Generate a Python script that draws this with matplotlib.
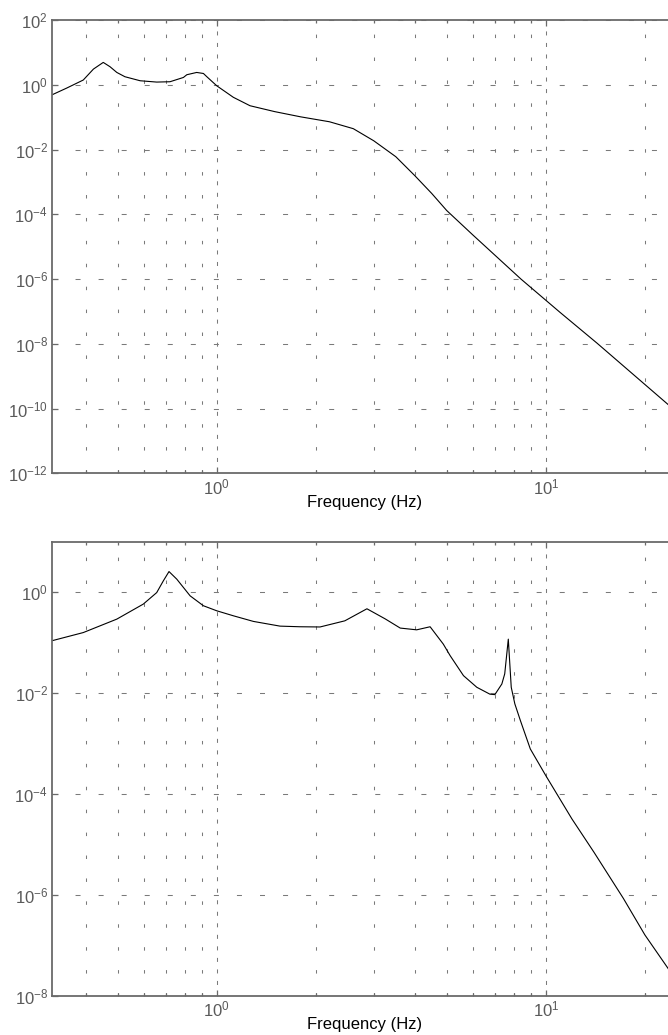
import numpy as np
import matplotlib
matplotlib.use('Agg')
import matplotlib.pyplot as plt
from matplotlib.ticker import LogFormatterMathtext, NullFormatter, NullLocator

# === Data ===
top_freq = [0.316, 0.35, 0.393, 0.422, 0.452, 0.474, 0.497, 0.526, 0.585, 0.657,
            0.721, 0.792, 0.811, 0.869, 0.911, 0.933, 1.0, 1.123, 1.262, 1.5,
            1.8, 2.2, 2.6, 3.0, 3.5, 4.0, 4.5, 5.0, 6.0, 8.4, 11.05, 14.3, 25.0]
top_mag = [0.49, 0.79, 1.40, 3.05, 4.9, 3.6, 2.4, 1.77, 1.33, 1.21,
           1.24, 1.68, 2.04, 2.4, 2.23, 1.77, 0.93, 0.41, 0.225, 0.148,
           0.102, 0.072, 0.044, 0.0186, 6.0e-3, 1.55e-3, 4.4e-4, 1.3e-4, 2.3e-5, 1.0e-6, 9.3e-8, 1.05e-8, 7.8e-11]

bot_freq = [0.316, 0.393, 0.497, 0.598, 0.657, 0.688, 0.716, 0.756, 0.83, 0.911,
            1.0, 1.123, 1.292, 1.557, 1.79, 2.06, 2.45, 2.86, 3.25, 3.61,
            4.05, 4.45, 4.88, 5.12, 5.62, 6.17, 6.76, 7.0, 7.35, 7.5,
            7.69, 7.85, 8.05, 8.37, 8.97, 10.0, 12.0, 14.0, 17.2, 20.0, 23.5, 25.0]
bot_mag = [0.109, 0.158, 0.292, 0.579, 0.98, 1.67, 2.56, 1.81, 0.845, 0.537,
           0.427, 0.34, 0.263, 0.212, 0.206, 0.204, 0.27, 0.468, 0.295, 0.194,
           0.179, 0.206, 0.0933, 0.055, 0.0221, 0.013, 9.5e-3, 9.3e-3, 0.0151, 0.024,
           0.117, 0.013, 6.1e-3, 2.84e-3, 7.8e-4, 2.3e-4, 3.2e-5, 7.0e-6, 8.5e-7, 1.6e-7, 3.5e-8, 1.9e-8]

top_yticks = [1e-12, 1e-10, 1e-8, 1e-6, 1e-4, 1e-2, 1e0, 1e2]
bot_yticks = [1e-8, 1e-6, 1e-4, 1e-2, 1e0]
x_major = [1, 10]
x_minor = [0.4, 0.5, 0.6, 0.7, 0.8, 0.9, 2, 3, 4, 5, 6, 7, 8, 9, 20]

# === Style ===
plt.rcParams['font.family'] = ['Liberation Sans', 'DejaVu Sans']
plt.rcParams['mathtext.fontset'] = 'custom'
plt.rcParams['mathtext.rm'] = 'Liberation Sans'
plt.rcParams['lines.scale_dashes'] = False
axis_gray = '#6a6a6a'
grid_gray = '#7a7a7a'

fig = plt.figure(figsize=(6.68, 10.35), dpi=100)
W, H = 668.0, 1035.0
left_px, right_px = 52.2, 676.8


def setup(ax, ylim, yticks):
    ax.set_xscale('log')
    ax.set_yscale('log')
    ax.set_xlim(10 ** -0.5, 25)
    ax.set_ylim(*ylim)
    ax.set_xticks(x_major)
    ax.set_xticks(x_minor, minor=True)
    ax.xaxis.set_major_formatter(LogFormatterMathtext())
    ax.xaxis.set_minor_formatter(NullFormatter())
    ax.set_yticks(yticks)
    ax.yaxis.set_minor_locator(NullLocator())
    ax.yaxis.set_major_formatter(LogFormatterMathtext())
    for s in ax.spines.values():
        s.set_color(axis_gray)
        s.set_linewidth(1.3)
    ax.tick_params(which='both', direction='in', top=True, right=True,
                   color=axis_gray, labelcolor='#5a5a5a', labelsize=12)
    ax.tick_params(which='major', length=4.3, width=0.9, pad=3)
    ax.tick_params(which='minor', length=2.2, width=0.9)
    ax.xaxis.grid(True, which='major', color=grid_gray, lw=0.75, dashes=(2.9, 5.4))
    ax.xaxis.grid(True, which='minor', color=grid_gray, lw=0.75, dashes=(2.5, 14))
    ax.yaxis.grid(True, which='major', color=grid_gray, lw=0.75, dashes=(3.6, 13))
    ax.set_xlabel('Frequency (Hz)', fontsize=12, color='black', labelpad=-2)


ax1 = fig.add_axes([left_px / W, (H - 473.3) / H, (right_px - left_px) / W, (473.3 - 20) / H])
ax1.plot(top_freq, top_mag, color='black', lw=0.8)
setup(ax1, (1e-12, 1e2), top_yticks)

ax2 = fig.add_axes([left_px / W, (H - 995.7) / H, (right_px - left_px) / W, (995.7 - 541.7) / H])
ax2.plot(bot_freq, bot_mag, color='black', lw=0.8)
setup(ax2, (1e-8, 1e1), bot_yticks)

plt.savefig('out.png', dpi=100)
